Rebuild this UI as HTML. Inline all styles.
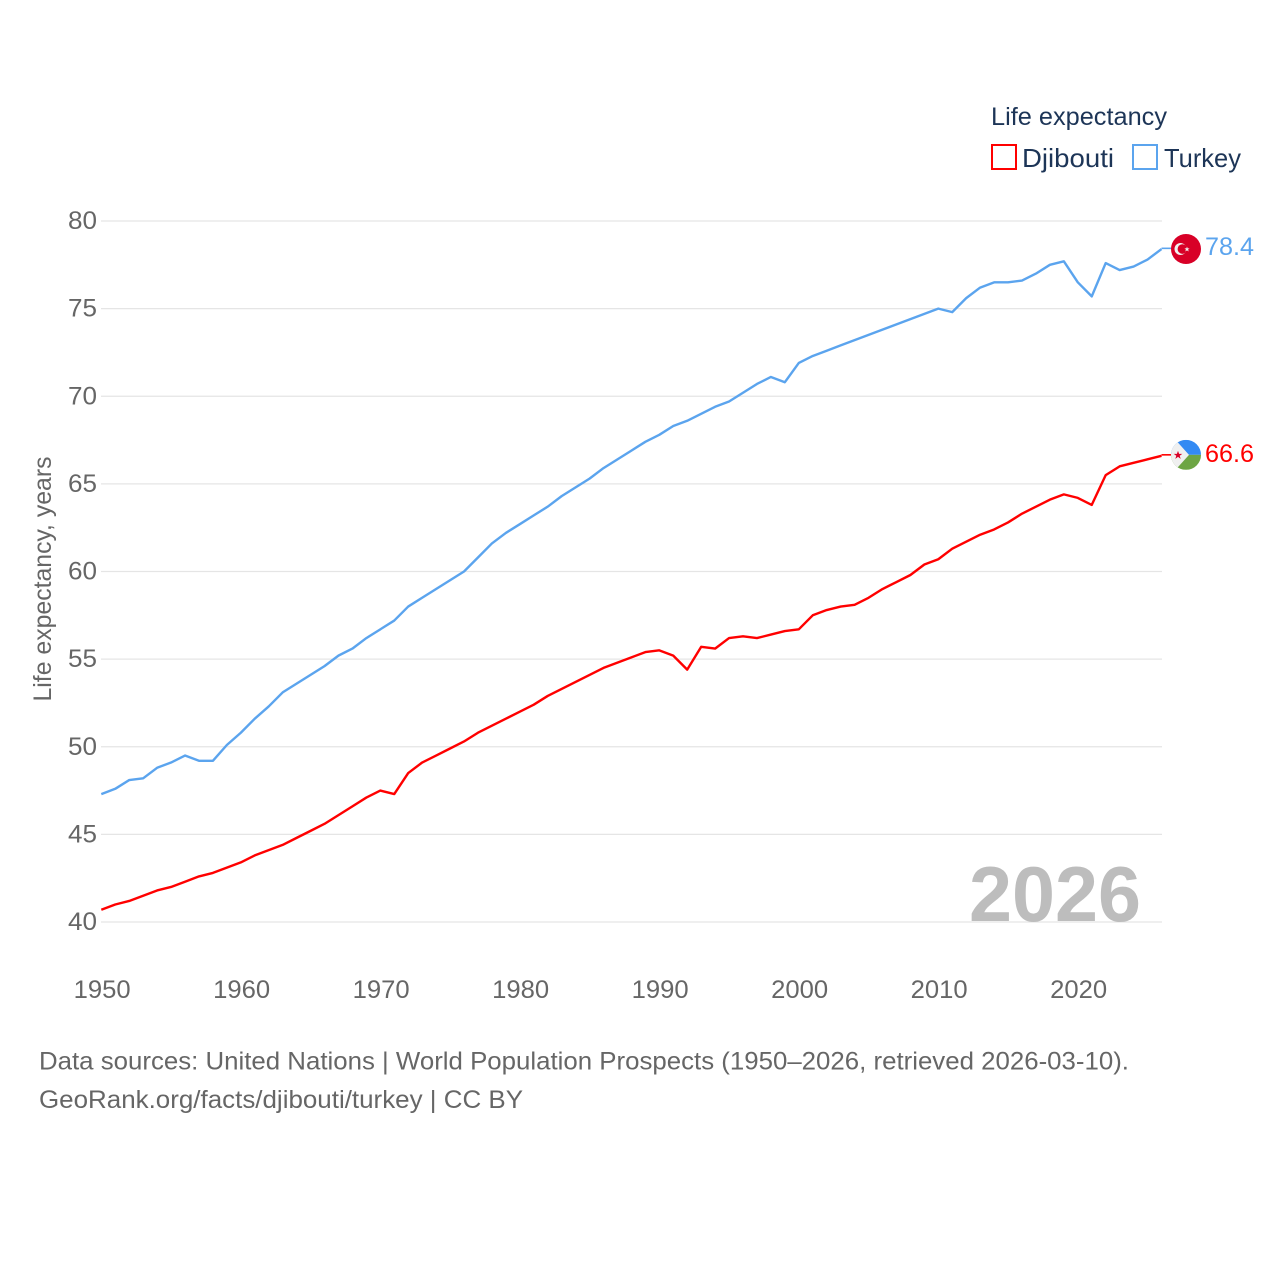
<!DOCTYPE html>
<html lang="en">
<head>
<meta charset="utf-8">
<title>Life expectancy: Djibouti and Turkey</title>
<style>
html,body{margin:0;padding:0;background:#fff;}
svg{display:block;font-family:"Liberation Sans",sans-serif;}
</style>
</head>
<body>
<svg id="chart" xmlns="http://www.w3.org/2000/svg" width="1280" height="1280" viewBox="0 0 1280 1280">
  <defs>
    <clipPath id="flag-clip-dj"><circle cx="0" cy="0" r="15"/></clipPath>
  </defs>
  <rect width="1280" height="1280" fill="#fff"/>
  <g id="grid"></g>
  <g id="yticks"></g>
  <g id="xticks"></g>
  <text transform="translate(51,579) rotate(-90)" text-anchor="middle" font-size="25" fill="#666" textLength="245" lengthAdjust="spacingAndGlyphs">Life expectancy, years</text>
  <text x="969" y="921" font-size="78" font-weight="700" fill="#bdbdbd" textLength="172" lengthAdjust="spacingAndGlyphs">2026</text>
  <g id="series"></g>
  <g id="ends"></g>
  <g>
    <text x="991" y="125" font-size="25" fill="#1d3557" textLength="176" lengthAdjust="spacingAndGlyphs">Life expectancy</text>
    <rect x="992" y="145" width="24" height="24" fill="none" stroke="#ff0000" stroke-width="2"/>
    <text x="1022" y="167" font-size="26" fill="#1d3557" textLength="92" lengthAdjust="spacingAndGlyphs">Djibouti</text>
    <rect x="1133" y="145" width="24" height="24" fill="none" stroke="#5ba4ee" stroke-width="2"/>
    <text x="1164" y="167" font-size="26" fill="#1d3557" textLength="77" lengthAdjust="spacingAndGlyphs">Turkey</text>
  </g>
  <g>
    <text x="39" y="1069.5" font-size="25" fill="#666" textLength="1090" lengthAdjust="spacingAndGlyphs">Data sources: United Nations | World Population Prospects (1950–2026, retrieved 2026-03-10).</text>
    <text x="39" y="1108" font-size="25" fill="#666" textLength="484" lengthAdjust="spacingAndGlyphs">GeoRank.org/facts/djibouti/turkey | CC BY</text>
  </g>
</svg>
<script>
const years = [1950,1951,1952,1953,1954,1955,1956,1957,1958,1959,1960,1961,1962,1963,1964,1965,1966,1967,1968,1969,1970,1971,1972,1973,1974,1975,1976,1977,1978,1979,1980,1981,1982,1983,1984,1985,1986,1987,1988,1989,1990,1991,1992,1993,1994,1995,1996,1997,1998,1999,2000,2001,2002,2003,2004,2005,2006,2007,2008,2009,2010,2011,2012,2013,2014,2015,2016,2017,2018,2019,2020,2021,2022,2023,2024,2025,2026];
const turkeyValues = [47.3,47.6,48.1,48.2,48.8,49.1,49.5,49.2,49.2,50.1,50.8,51.6,52.3,53.1,53.6,54.1,54.6,55.2,55.6,56.2,56.7,57.2,58.0,58.5,59.0,59.5,60.0,60.8,61.6,62.2,62.7,63.2,63.7,64.3,64.8,65.3,65.9,66.4,66.9,67.4,67.8,68.3,68.6,69.0,69.4,69.7,70.2,70.7,71.1,70.8,71.9,72.3,72.6,72.9,73.2,73.5,73.8,74.1,74.4,74.7,75.0,74.8,75.6,76.2,76.5,76.5,76.6,77.0,77.5,77.7,76.5,75.7,77.6,77.2,77.4,77.8,78.4];
const djiboutiValues = [40.7,41.0,41.2,41.5,41.8,42.0,42.3,42.6,42.8,43.1,43.4,43.8,44.1,44.4,44.8,45.2,45.6,46.1,46.6,47.1,47.5,47.3,48.5,49.1,49.5,49.9,50.3,50.8,51.2,51.6,52.0,52.4,52.9,53.3,53.7,54.1,54.5,54.8,55.1,55.4,55.5,55.2,54.4,55.7,55.6,56.2,56.3,56.2,56.4,56.6,56.7,57.5,57.8,58.0,58.1,58.5,59.0,59.4,59.8,60.4,60.7,61.3,61.7,62.1,62.4,62.8,63.3,63.7,64.1,64.4,64.2,63.8,65.5,66.0,66.2,66.4,66.6];
const yTickLabels = [40,45,50,55,60,65,70,75,80];
const xTickLabels = [1950,1960,1970,1980,1990,2000,2010,2020];

const NS = 'http://www.w3.org/2000/svg';
function xScale(year){ return 101.3 + (year - 1950) * (1161.5 - 101.3) / (2026 - 1950); }
function yScale(v){ return 922 - (v - 40) * (922 - 221) / (80 - 40); }
function make(tag, attrs, parent){
  const el = document.createElementNS(NS, tag);
  for (const k in attrs) el.setAttribute(k, attrs[k]);
  parent.appendChild(el);
  return el;
}

const grid = document.getElementById('grid');
const yticks = document.getElementById('yticks');
const xticks = document.getElementById('xticks');
const series = document.getElementById('series');
const ends = document.getElementById('ends');

yTickLabels.forEach(function(v){
  const line = make('line', {x1:101, x2:1162, y1:yScale(v), y2:yScale(v), stroke:'#e5e5e5', 'stroke-width':1.3}, grid);
  
  
  const t = make('text', {x:97, y:yScale(v) + 8, 'text-anchor':'end', 'font-size':25, fill:'#666', textLength:29, lengthAdjust:'spacingAndGlyphs'}, yticks);
  
  
  t.textContent = v;
});

xTickLabels.forEach(function(y){
  const t = make('text', {x:xScale(y) + 0.9, y:998, 'text-anchor':'middle', 'font-size':25, fill:'#666', textLength:57, lengthAdjust:'spacingAndGlyphs'}, xticks);
  
  
  t.textContent = y;
});

function linePath(values){
  return values.map(function(v, i){
    return (i ? 'L' : 'M') + xScale(years[i]).toFixed(2) + ' ' + yScale(v).toFixed(2);
  }).join(' ');
}

const djiboutiLine = make('path', {d:linePath(djiboutiValues), fill:'none', stroke:'#ff0000', 'stroke-width':2.4, 'stroke-linejoin':'round'}, series);


const turkeyLine = make('path', {d:linePath(turkeyValues), fill:'none', stroke:'#5ba4ee', 'stroke-width':2.4, 'stroke-linejoin':'round'}, series);



const lastX = xScale(years[years.length - 1]);

/* Turkey end marker */
const tv = turkeyValues[turkeyValues.length - 1];
const ty = yScale(tv);
const tLead = make('line', {x1:lastX, x2:1172, y1:ty - 0.7, y2:ty - 0.7, stroke:'#5ba4ee', 'stroke-width':1.6}, ends);


const tFlag = make('g', {transform:'translate(1186,' + ty + ')'}, ends);


make('circle', {r:15, fill:'#d80027'}, tFlag);
make('circle', {cx:-5.5, r:6, fill:'#f0f0f0'}, tFlag);
make('circle', {cx:-3.6, r:4.8, fill:'#d80027'}, tFlag);
make('polygon', {points:'1,-2.4 1.7,-0.7 3.6,-0.7 2.1,0.5 2.7,2.4 1,1.3 -0.7,2.4 -0.1,0.5 -1.6,-0.7 0.3,-0.7', fill:'#f0f0f0'}, tFlag);
const tLabel = make('text', {x:1205, y:ty + 6, 'font-size':25, fill:'#5ba4ee', textLength:49, lengthAdjust:'spacingAndGlyphs'}, ends);


tLabel.textContent = tv.toFixed(1);

/* Djibouti end marker */
const dv = djiboutiValues[djiboutiValues.length - 1];
const dy = yScale(dv);
const dLead = make('line', {x1:lastX, x2:1172, y1:dy - 1, y2:dy - 1, stroke:'#ff0000', 'stroke-width':1.6}, ends);


const dFlag = make('g', {transform:'translate(1186,' + (dy - 1) + ')'}, ends);


const dClip = make('g', {'clip-path':'url(#flag-clip-dj)'}, dFlag);
make('rect', {x:-15, y:-15, width:30, height:15, fill:'#338af3'}, dClip);
make('rect', {x:-15, y:0, width:30, height:15, fill:'#6da544'}, dClip);
make('polygon', {points:'-15,-20 3,0 -15,20', fill:'#f0f0f0'}, dClip);
make('polygon', {points:'-8,-4 -6.9,-1 -3.7,-1 -6.3,0.9 -5.3,4 -8,2.1 -10.7,4 -9.7,0.9 -12.3,-1 -9.1,-1', fill:'#d80027'}, dFlag);
const dLabel = make('text', {x:1205, y:dy + 6, 'font-size':25, fill:'#ff0000', textLength:49, lengthAdjust:'spacingAndGlyphs'}, ends);


dLabel.textContent = dv.toFixed(1);
</script>
</body>
</html>
